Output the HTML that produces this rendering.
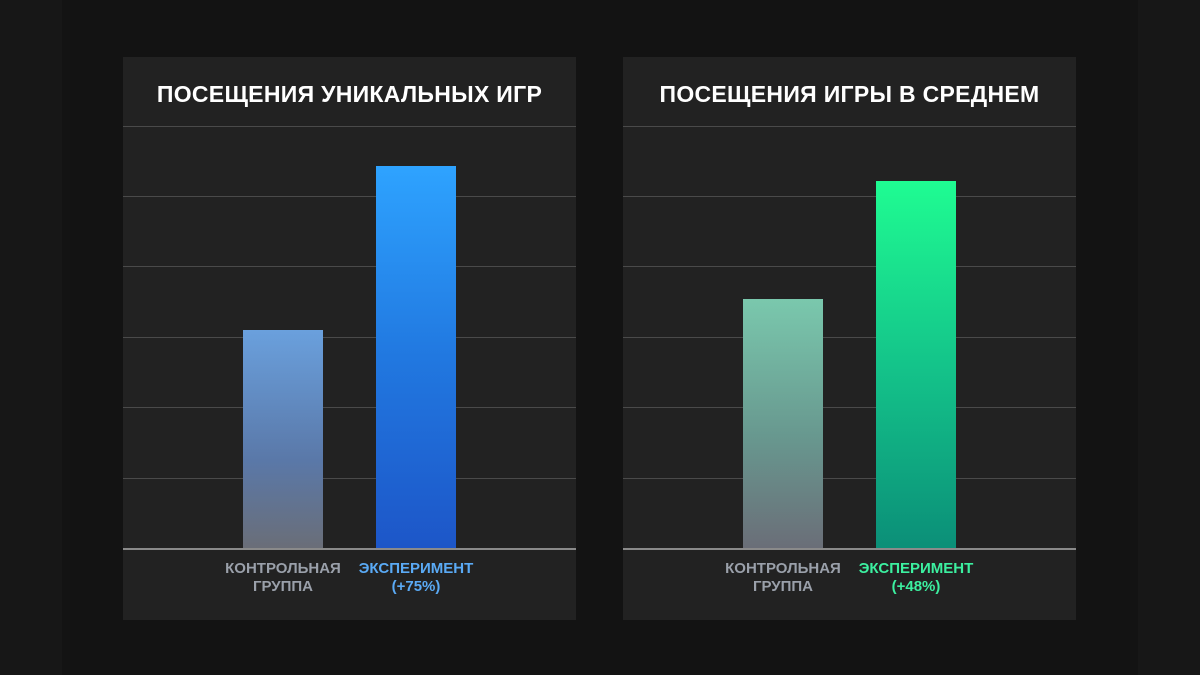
<!DOCTYPE html>
<html><head><meta charset="utf-8"><style>
*{margin:0;padding:0;box-sizing:border-box}
body{width:1200px;height:675px;background:#131313;position:relative;overflow:hidden;font-family:"Liberation Sans","DejaVu Sans",sans-serif}
.edge{position:absolute;top:0;width:62px;height:675px;background:#171717}
.panel{position:absolute;top:57px;width:453px;height:563px;background:#222222}
.title{position:absolute;top:24px;left:0;width:100%;text-align:center;color:#fff;font-weight:bold;font-size:23px;letter-spacing:0.3px}
.grid{position:absolute;left:0;width:100%;height:1px;background:#4a4a4a}
.axis{position:absolute;left:0;width:100%;top:491px;height:2px;background:#8a8a8a}
.bar{position:absolute;width:80px;bottom:72px}
.lab{position:absolute;top:503px;width:160px;text-align:center;font-weight:bold;font-size:15px;line-height:18px}
</style></head><body>
<div class="edge" style="left:0"></div>
<div class="edge" style="right:0"></div>

<div class="panel" style="left:123px">
<div class="title">ПОСЕЩЕНИЯ УНИКАЛЬНЫХ ИГР</div>
<div class="grid" style="top:69px"></div><div class="grid" style="top:139px"></div><div class="grid" style="top:209px"></div><div class="grid" style="top:280px"></div><div class="grid" style="top:350px"></div><div class="grid" style="top:421px"></div>
<div class="bar" style="left:120px;top:273px;background:linear-gradient(to bottom,#6aa0dd,#5a78a8 60%,#6a6e78)"></div>
<div class="bar" style="left:253px;top:109px;background:linear-gradient(to bottom,#2ea3ff,#2178e0 50%,#1d56c8)"></div>
<div class="axis"></div>
<div class="lab" style="left:80px;color:#9aa0aa">КОНТРОЛЬНАЯ<br>ГРУППА</div>
<div class="lab" style="left:213px;color:#5aaaf5">ЭКСПЕРИМЕНТ<br>(+75%)</div>
</div>

<div class="panel" style="left:623px">
<div class="title">ПОСЕЩЕНИЯ ИГРЫ В СРЕДНЕМ</div>
<div class="grid" style="top:69px"></div><div class="grid" style="top:139px"></div><div class="grid" style="top:209px"></div><div class="grid" style="top:280px"></div><div class="grid" style="top:350px"></div><div class="grid" style="top:421px"></div>
<div class="bar" style="left:120px;top:242px;background:linear-gradient(to bottom,#7ac8ad,#68988f 55%,#6a6e78)"></div>
<div class="bar" style="left:253px;top:124px;background:linear-gradient(to bottom,#1ffc92,#14c48a 50%,#0b8f78)"></div>
<div class="axis"></div>
<div class="lab" style="left:80px;color:#9aa0aa">КОНТРОЛЬНАЯ<br>ГРУППА</div>
<div class="lab" style="left:213px;color:#3cf0a0">ЭКСПЕРИМЕНТ<br>(+48%)</div>
</div>
</body></html>
